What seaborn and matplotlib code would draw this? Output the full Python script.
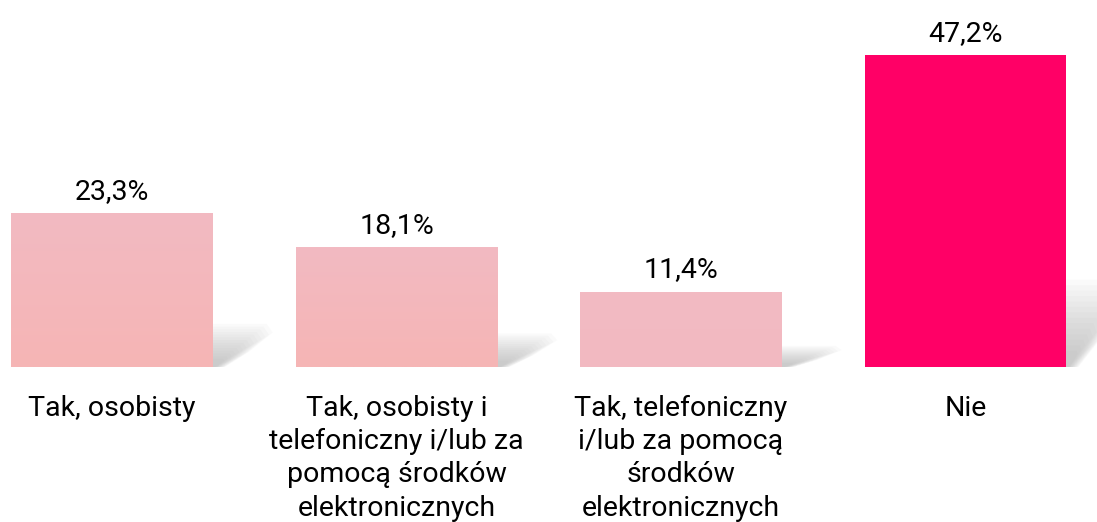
import numpy as np
import pandas as pd
import matplotlib
matplotlib.use("Agg")
import matplotlib.pyplot as plt
from matplotlib.patches import Polygon
from matplotlib.colors import LinearSegmentedColormap
import seaborn as sns

# DATA
categories = [
    "Tak, osobisty",
    "Tak, osobisty i\ntelefoniczny i/lub za\npomocą środków\nelektronicznych",
    "Tak, telefoniczny\ni/lub za pomocą\nśrodków\nelektronicznych",
    "Nie",
]
values = [23.3, 18.1, 11.4, 47.2]
bar_colors = ["#F5B6BA", "#F5B6BA", "#F3B9C1", "#FF0066"]
grad_top = ["#F2BAC2", "#F2BAC2", "#F2BBC3", None]
grad_bottom = ["#F6B5B5", "#F6B5B5", "#F3B9C1", None]

sns.set_style("white")
plt.rcParams["font.family"] = ["Roboto", "DejaVu Sans"]

df = pd.DataFrame({"cat": categories, "val": values})

fig = plt.figure(figsize=(10.97, 5.22), dpi=100)
ax = fig.add_axes([0, 155 / 522, 1, 367 / 522])
sns.barplot(data=df, x="cat", y="val", hue="cat", palette=bar_colors,
            width=0.71, legend=False, ax=ax, saturation=1, zorder=3,
            linewidth=0)

ax.set_xlim(-112 / 284.5, (1097 - 112) / 284.5)
ax.set_ylim(0, 47.2 * 367 / 312)
ax.set_xlabel("")
ax.set_ylabel("")
ax.set_yticks([])
ax.tick_params(axis="x", length=0, pad=20, labelsize=20.5, labelcolor="#000000")
for lab in ax.get_xticklabels():
    lab.set_linespacing(1.3)
    lab.set_ha("center")
sns.despine(ax=ax, left=True, bottom=True)

# gradients + soft shadows
for i, p in enumerate(ax.patches):
    x, w, h = p.get_x(), p.get_width(), p.get_height()
    if grad_top[i] is not None:
        cmap = LinearSegmentedColormap.from_list("g", [grad_bottom[i], grad_top[i]])
        img = ax.imshow(np.linspace(0, 1, 100).reshape(-1, 1), cmap=cmap,
                        extent=[x, x + w, 0, h], origin="lower", aspect="auto",
                        zorder=3.5)
        img.set_clip_path(p)
    r = x + w
    for k in range(14):
        s = 1 - k / 16
        sh = h * 0.28 * s
        d = 0.21 * s
        poly = Polygon([(r - 0.02, 0), (r - 0.02, sh), (r + d * 0.9, sh),
                        (r + d, sh * 0.8), (r + d * 0.6, sh * 0.35),
                        (r + d * 0.2, 0)],
                       closed=True, facecolor="#999999", alpha=0.045,
                       edgecolor="none", zorder=2)
        ax.add_patch(poly)

for p, v in zip(ax.patches[:len(values)], values):
    ax.annotate(f"{v:.1f}%".replace(".", ","),
                (p.get_x() + p.get_width() / 2, p.get_height()),
                xytext=(0, 6), textcoords="offset points",
                ha="center", va="bottom", fontsize=20.5, color="#000000")

fig.savefig("out.png", dpi=100)
